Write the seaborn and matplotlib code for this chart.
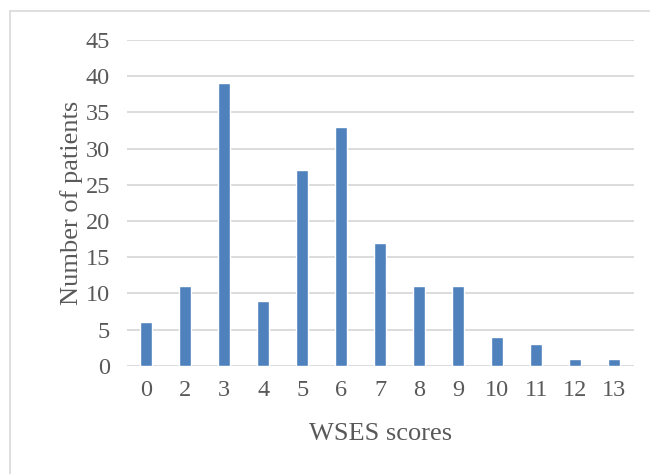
import pandas as pd
import matplotlib
matplotlib.use("Agg")
import matplotlib.pyplot as plt
import seaborn as sns
from matplotlib.lines import Line2D

# ==============================
# DATA
# ==============================
scores = ["0", "2", "3", "4", "5", "6", "7", "8", "9", "10", "11", "12", "13"]
patients = [6, 11, 39, 9, 27, 33, 17, 11, 11, 4, 3, 1, 1]
y_ticks = [0, 5, 10, 15, 20, 25, 30, 35, 40, 45]

df = pd.DataFrame({"score": scores, "patients": patients})

# ==============================
# STYLE
# ==============================
sns.set_theme(style="white")
plt.rcParams['font.family'] = ['Liberation Serif', 'DejaVu Serif']
TEXT = "#595959"
GRID = "#D9D9D9"
BAR = "#4F81BD"

fig = plt.figure(figsize=(6.5, 4.74), dpi=100)
ax = fig.add_axes([0.195, 0.228, 0.78, 0.688])

sns.barplot(data=df, x="score", y="patients", order=scores,
            color=BAR, saturation=1, width=0.32, ax=ax)

ax.set_ylim(0, 45)
ax.set_yticks(y_ticks)
ax.yaxis.grid(True, color=GRID, linewidth=1.3)
ax.set_axisbelow(True)
for s in ax.spines.values():
    s.set_visible(False)
ax.tick_params(axis="both", length=0, colors=TEXT, labelsize=17.5)
ax.tick_params(axis="x", pad=10)
ax.tick_params(axis="y", pad=12)

ax.set_xlabel("WSES scores", fontsize=19, color=TEXT, labelpad=16)
ax.set_ylabel("Number of patients", fontsize=19, color=TEXT, labelpad=2)

# chart frame (cropped on right and bottom)
fig.add_artist(Line2D([10 / 650, 10 / 650], [0, 1 - 11 / 474],
                      transform=fig.transFigure, color=GRID, lw=1.2))
fig.add_artist(Line2D([10 / 650, 1], [1 - 11 / 474, 1 - 11 / 474],
                      transform=fig.transFigure, color=GRID, lw=1.2))

fig.savefig("out.png", dpi=100)
